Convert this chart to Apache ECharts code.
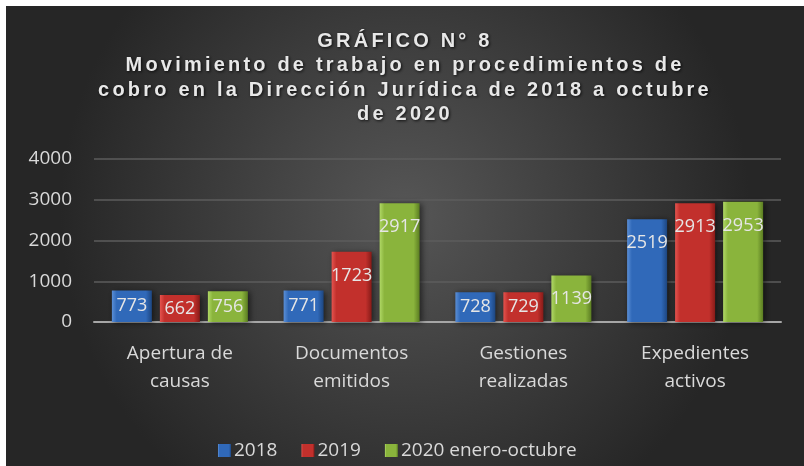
<!DOCTYPE html>
<html>
<head>
<meta charset="utf-8">
<script src="https://cdn.jsdelivr.net/npm/echarts@6/dist/echarts.min.js"></script>
<style>
  html, body { margin: 0; padding: 0; background: #ffffff; }
  #chart { position: absolute; left: 6px; top: 6px; width: 798px; height: 460px; }
</style>
</head>
<body>
<div id="chart"></div>
<script>
// Datos del gráfico
const categorias = ['Apertura de\ncausas', 'Documentos\nemitidos', 'Gestiones\nrealizadas', 'Expedientes\nactivos']
const nombresSeries = ['2018', '2019', '2020 enero-octubre']
const valores2018 = [773, 771, 728, 2519]
const valores2019 = [662, 1723, 729, 2913]
const valores2020 = [756, 2917, 1139, 2953]
const ticksY = [0, 1000, 2000, 3000, 4000]

const textColor = '#d9d9d9'
const fuente = '"Open Sans", sans-serif'
const fuenteTitulo = '"Liberation Sans", Arial, sans-serif'

// El título lleva espaciado entre letras: se aplica solo al texto en negrita
const fillTextOriginal = CanvasRenderingContext2D.prototype.fillText
CanvasRenderingContext2D.prototype.fillText = function (...args) {
  const prev = this.letterSpacing
  if (this.font.indexOf('bold') !== -1) this.letterSpacing = '3.2px'
  fillTextOriginal.apply(this, args)
  this.letterSpacing = prev
}

// Degradado tipo bisel para cada color
const bisel = (claro, base, oscuro) => new echarts.graphic.LinearGradient(0, 0, 1, 0, [
  { offset: 0, color: claro },
  { offset: 0.12, color: base },
  { offset: 0.85, color: base },
  { offset: 1, color: oscuro }
])

const colores = [
  bisel('#5b8fd6', '#3069b9', '#1d4680'),
  bisel('#e5544f', '#c2302c', '#871b18'),
  bisel('#b0d866', '#8ab43c', '#5b7d22')
]

// Etiqueta dentro de la barra: centrada si es corta, arriba si es alta
const construirDatos = (valores) => valores.map(v => ({
  value: v,
  label: v < 1200 ? { position: 'inside' } : { position: 'insideTop', distance: 15 }
}))

const series = [valores2018, valores2019, valores2020].map((vals, i) => ({
  name: nombresSeries[i],
  type: 'bar',
  barWidth: 40,
  barGap: '20%',
  data: construirDatos(vals),
  itemStyle: {
    color: colores[i],
    shadowColor: 'rgba(0,0,0,0.55)',
    shadowBlur: 6,
    shadowOffsetX: 2,
    shadowOffsetY: 1
  },
  label: {
    show: true,
    color: '#e6e6e6',
    fontFamily: fuente,
    fontSize: 18
  }
}))

const chart = echarts.init(document.getElementById('chart'))
chart.setOption({
  backgroundColor: new echarts.graphic.RadialGradient(0.5, 0.45, 0.75, [
    { offset: 0, color: '#565656' },
    { offset: 1, color: '#262626' }
  ]),
  animation: false,
  title: {
    text: 'GRÁFICO N° 8\nMovimiento de trabajo en procedimientos de\ncobro en la Dirección Jurídica de 2018 a octubre\nde 2020',
    left: 'center',
    top: 18,
    textStyle: {
      color: '#e8e8e8',
      fontFamily: fuenteTitulo,
      fontWeight: 'bold',
      fontSize: 20,
      lineHeight: 24.5,
      textShadowColor: 'rgba(0,0,0,0.8)',
      textShadowBlur: 3,
      textShadowOffsetX: 1,
      textShadowOffsetY: 1
    }
  },
  legend: {
    data: nombresSeries,
    left: 207,
    top: 430,
    icon: 'rect',
    itemWidth: 13,
    itemHeight: 13,
    itemGap: 24,
    textStyle: { color: textColor, fontFamily: fuente, fontSize: 19, padding: [0, 0, 0, -2] }
  },
  grid: {
    left: 88,
    right: 23,
    top: 153,
    bottom: 144
  },
  xAxis: {
    type: 'category',
    data: categorias,
    axisTick: { show: false },
    axisLine: { lineStyle: { color: '#a6a6a6', width: 2 } },
    axisLabel: {
      color: textColor,
      fontFamily: fuente,
      fontSize: 19,
      lineHeight: 28,
      margin: 18,
      interval: 0
    }
  },
  yAxis: {
    type: 'value',
    min: ticksY[0],
    max: ticksY[ticksY.length - 1],
    interval: 1000,
    axisLine: { show: false },
    axisTick: { show: false },
    splitLine: { lineStyle: { color: '#5c5c5c', width: 1.5 } },
    axisLabel: {
      color: textColor,
      fontFamily: fuente,
      fontSize: 19,
      margin: 22,
      formatter: (v) => String(v)
    }
  },
  series
})
</script>
</body>
</html>
